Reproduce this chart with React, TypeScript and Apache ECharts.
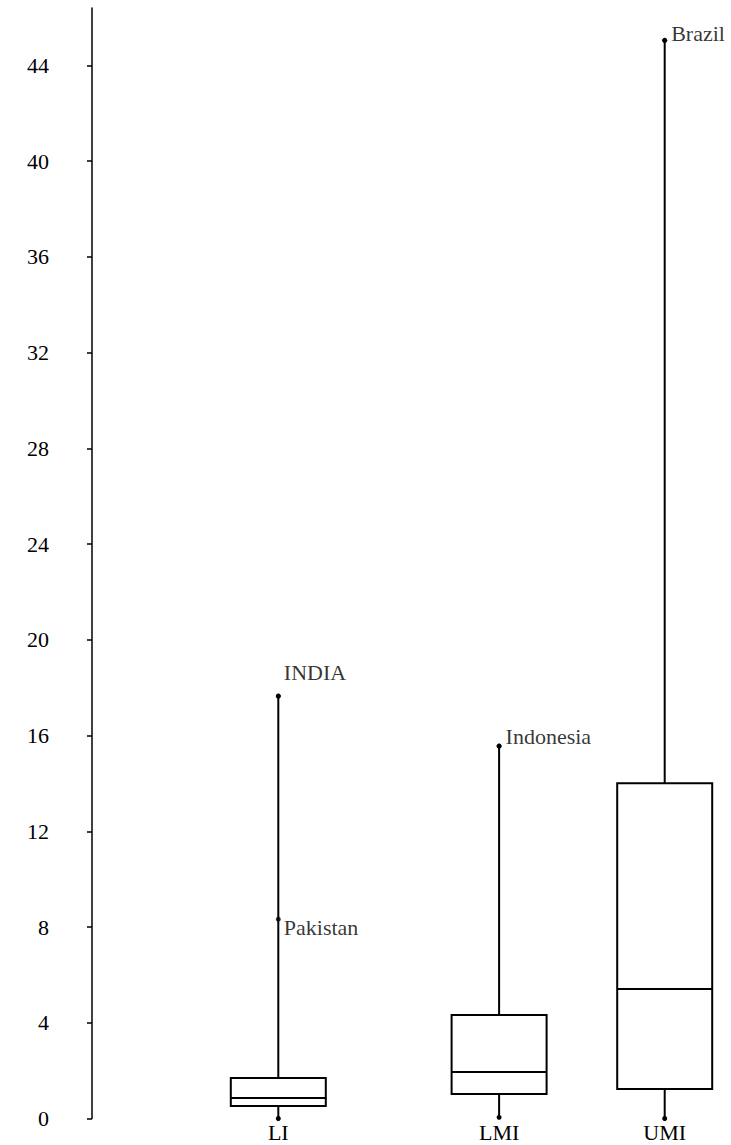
import React, { useEffect, useRef } from 'react';
import * as echarts from 'echarts';

// Income groups and their horizontal slots on a fine category grid
const groups = ['LI', 'LMI', 'UMI'];
const groupSlots = [13, 29, 41];
const slotCount = 46;

// Box-plot statistics per group
const mins = [0, 0.05, 0];
const q1s = [0.52, 1.02, 1.23];
const medians = [0.86, 1.94, 5.41];
const q3s = [1.69, 4.32, 14.01];
const maxs = [17.65, 15.56, 45.05];

// Labelled countries
const pointNames = ['INDIA', 'Pakistan', 'Indonesia', 'Brazil'];
const pointGroups = ['LI', 'LI', 'LMI', 'UMI'];
const pointValues = [17.65, 8.33, 15.56, 45.05];

// Y tick labels
const yTicks = [0, 4, 8, 12, 16, 20, 24, 28, 32, 36, 40, 44];

const FONT = "'Liberation Serif', 'DejaVu Serif', serif";
const INK = '#000';

export default function App() {
  const ref = useRef<HTMLDivElement>(null);

  useEffect(() => {
    if (!ref.current) return;
    const chart = echarts.init(ref.current, null, { renderer: 'svg' });

    const categories = Array.from({ length: slotCount }, (_, i) => {
      const g = groupSlots.indexOf(i);
      return g >= 0 ? groups[g] : '';
    });

    const boxData = groups.map((g, i) => [groupSlots[i], mins[i], q1s[i], medians[i], q3s[i], maxs[i]]);

    const labelTweaks: Record<string, { offset: number[]; distance: number }> = {
      INDIA: { offset: [0, -24], distance: 3 },
      Pakistan: { offset: [0, 8], distance: 3 },
      Indonesia: { offset: [0, -10], distance: 4 },
      Brazil: { offset: [0, -7], distance: 4 },
    };

    const pointData = pointNames.map((n, i) => ({
      name: n,
      value: [groupSlots[groups.indexOf(pointGroups[i])], pointValues[i]],
      label: {
        show: true,
        position: 'right',
        formatter: n,
        offset: labelTweaks[n].offset,
        distance: labelTweaks[n].distance,
        color: INK,
        fontFamily: FONT,
        fontSize: 22,
      },
    }));

    const BOX_W = 95;

    chart.setOption({
      animation: false,
      backgroundColor: '#fff',
      grid: { left: 92, top: 8, width: 634.8, height: 1110.5, containLabel: false },
      xAxis: {
        type: 'category',
        data: categories,
        boundaryGap: true,
        axisLine: { show: false },
        axisTick: { show: false },
        splitLine: { show: false },
        axisLabel: {
          interval: 0,
          margin: 3,
          color: INK,
          fontFamily: FONT,
          fontSize: 22,
        },
      },
      yAxis: {
        type: 'value',
        min: 0,
        max: 46.4,
        interval: 4,
        splitLine: { show: false },
        axisLine: { show: true, lineStyle: { color: INK, width: 1.5 } },
        axisTick: {
          show: true,
          length: 5,
          customValues: yTicks,
          lineStyle: { color: INK, width: 1.5 },
        },
        axisLabel: {
          customValues: yTicks,
          margin: 43,
          color: INK,
          fontFamily: FONT,
          fontSize: 22,
        },
      },
      series: [
        {
          type: 'custom',
          encode: { x: 0, y: [1, 2, 3, 4, 5] },
          data: boxData,
          renderItem: (params: any, api: any) => {
            const x = api.value(0);
            const pMin = api.coord([x, api.value(1)]);
            const pQ1 = api.coord([x, api.value(2)]);
            const pMed = api.coord([x, api.value(3)]);
            const pQ3 = api.coord([x, api.value(4)]);
            const pMax = api.coord([x, api.value(5)]);
            const cx = pMin[0];
            const half = BOX_W / 2;
            const lineStyle = { stroke: INK, lineWidth: 2, fill: null };
            return {
              type: 'group',
              children: [
                { type: 'line', shape: { x1: cx, y1: pQ3[1], x2: cx, y2: pMax[1] }, style: lineStyle },
                { type: 'line', shape: { x1: cx, y1: pMin[1], x2: cx, y2: pQ1[1] }, style: lineStyle },
                {
                  type: 'rect',
                  shape: { x: cx - half, y: pQ3[1], width: BOX_W, height: pQ1[1] - pQ3[1] },
                  style: { stroke: INK, lineWidth: 2, fill: 'none' },
                },
                { type: 'line', shape: { x1: cx - half, y1: pMed[1], x2: cx + half, y2: pMed[1] }, style: lineStyle },
                { type: 'circle', shape: { cx, cy: pMax[1], r: 2.5 }, style: { fill: INK } },
                { type: 'circle', shape: { cx, cy: pMin[1], r: 2.5 }, style: { fill: INK } },
              ],
            };
          },
          z: 2,
        },
        {
          type: 'scatter',
          data: pointData,
          symbol: 'circle',
          symbolSize: 5,
          itemStyle: { color: INK },
          z: 3,
        },
      ],
    });

    return () => chart.dispose();
  }, []);

  return (
    <div
      ref={ref}
      style={{ position: 'fixed', left: 0, top: 0, width: 731, height: 1145, background: '#fff' }}
    />
  );
}
